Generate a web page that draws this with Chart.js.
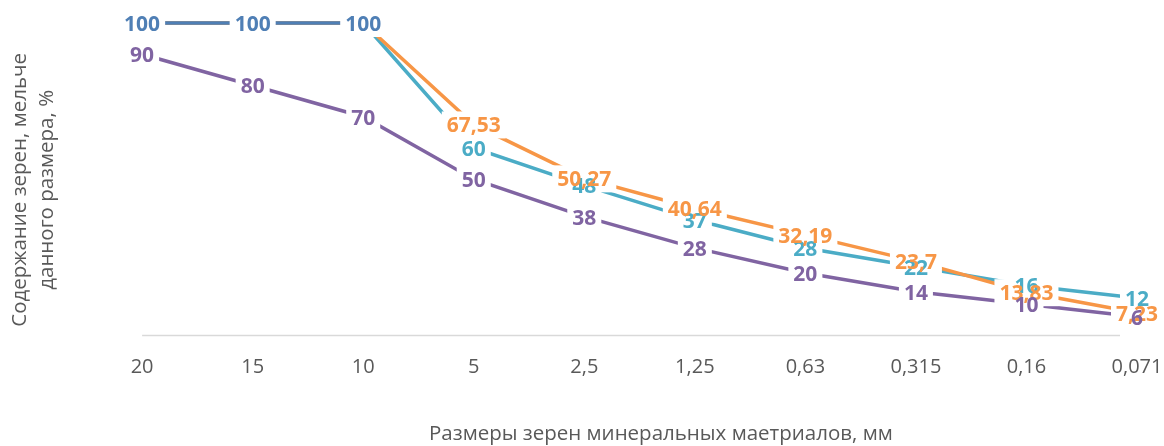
<!DOCTYPE html>
<html>
<head>
<meta charset="utf-8">
<script src="https://cdn.jsdelivr.net/npm/chart.js@4/dist/chart.umd.min.js"></script>
<style>
  html, body { margin: 0; padding: 0; background: #fff; }
  #wrap { width: 1164px; height: 446px; }
</style>
</head>
<body>
<div id="wrap"><canvas id="myChart" width="1164" height="446"></canvas></div>
<script>
const sizes = ['20', '15', '10', '5', '2,5', '1,25', '0,63', '0,315', '0,16', '0,071'];
const topLine = [100, 100, 100, null, null, null, null, null, null, null];
const upperLimit = [100, 100, 100, 60, 48, 37, 28, 22, 16, 12];
const mixture = [100, 100, 100, 67.53, 50.27, 40.64, 32.19, 23.7, 13.83, 7.23];
const lowerLimit = [90, 80, 70, 50, 38, 28, 20, 14, 10, 6];

const fmt = v => String(v).replace('.', ',');

// bottom axis line, a bit shorter than the plot on the right (as in Excel)
const axisLine = {
    id: 'axisLine',
    beforeDatasetsDraw(chart) {
        const {ctx, chartArea} = chart;
        ctx.save();
        ctx.strokeStyle = '#d9d9d9';
        ctx.lineWidth = 1.5;
        ctx.beginPath();
        ctx.moveTo(chartArea.left, chartArea.bottom);
        ctx.lineTo(chartArea.right - 17, chartArea.bottom);
        ctx.stroke();
        ctx.restore();
    }
};

// labels centered on points, white box behind each, then texts on top
const pointLabels = {
    id: 'pointLabels',
    afterDatasetsDraw(chart) {
        const ctx = chart.ctx;
        ctx.save();
        ctx.font = 'bold 21px "Open Sans"';
        ctx.textAlign = 'center';
        ctx.textBaseline = 'middle';
        const items = [];
        chart.data.datasets.forEach((ds, i) => {
            const meta = chart.getDatasetMeta(i);
            meta.data.forEach((pt, j) => {
                const v = ds.data[j];
                if (v === null || v === undefined) return;
                if (ds.skipLabels && ds.skipLabels.includes(j)) return;
                items.push({x: pt.x, y: pt.y, text: fmt(v), color: ds.borderColor});
            });
        });
        ctx.fillStyle = '#fff';
        items.forEach(it => {
            const w = ctx.measureText(it.text).width;
            ctx.fillRect(it.x - w / 2 - 5, it.y - 13, w + 10, 27);
        });
        items.forEach(it => {
            ctx.fillStyle = it.color;
            ctx.fillText(it.text, it.x, it.y + 2);
        });
        ctx.restore();
    }
};

const ctx = document.getElementById('myChart');
new Chart(ctx, {
    type: 'line',
    data: {
        labels: sizes,
        datasets: [
            {data: upperLimit, borderColor: '#4bacc6', order: 3, skipLabels: [0, 1, 2]},
            {data: mixture, borderColor: '#f79646', order: 2, skipLabels: [0, 1, 2]},
            {data: lowerLimit, borderColor: '#8064a2', order: 4},
            {data: topLine, borderColor: '#4f7fb5', order: 1},
        ].map(d => Object.assign({
            borderWidth: 3.5,
            pointRadius: 0,
            tension: 0,
            fill: false,
            clip: false,
            spanGaps: false
        }, d))
    },
    plugins: [axisLine, pointLabels],
    options: {
        responsive: false,
        animation: false,
        layout: {padding: {top: 23, right: 27, left: 7, bottom: 0}},
        scales: {
            x: {
                offset: false,
                grid: {display: false, drawTicks: false},
                border: {display: false},
                ticks: {color: '#595959', font: {family: '"Open Sans"', size: 20}, padding: 20, maxRotation: 0},
                afterFit(scale) {
                    scale.paddingRight = 0;
                },
                title: {
                    display: true,
                    text: '        Размеры зерен минеральных маетриалов, мм',
                    color: '#595959',
                    font: {family: '"Open Sans"', size: 20.5},
                    padding: {top: 22, bottom: 0}
                }
            },
            y: {
                min: 0,
                max: 100,
                grid: {display: false},
                border: {display: false},
                ticks: {display: false},
                title: {
                    display: true,
                    text: ['Содержание зерен, мельче    ', 'данного размера, %    '],
                    color: '#595959',
                    font: {family: '"Open Sans"', size: 20.5, lineHeight: 1.32},
                    padding: {top: 0, bottom: 73}
                }
            }
        },
        plugins: {
            legend: {display: false},
            tooltip: {enabled: false}
        }
    }
});
</script>
</body>
</html>
